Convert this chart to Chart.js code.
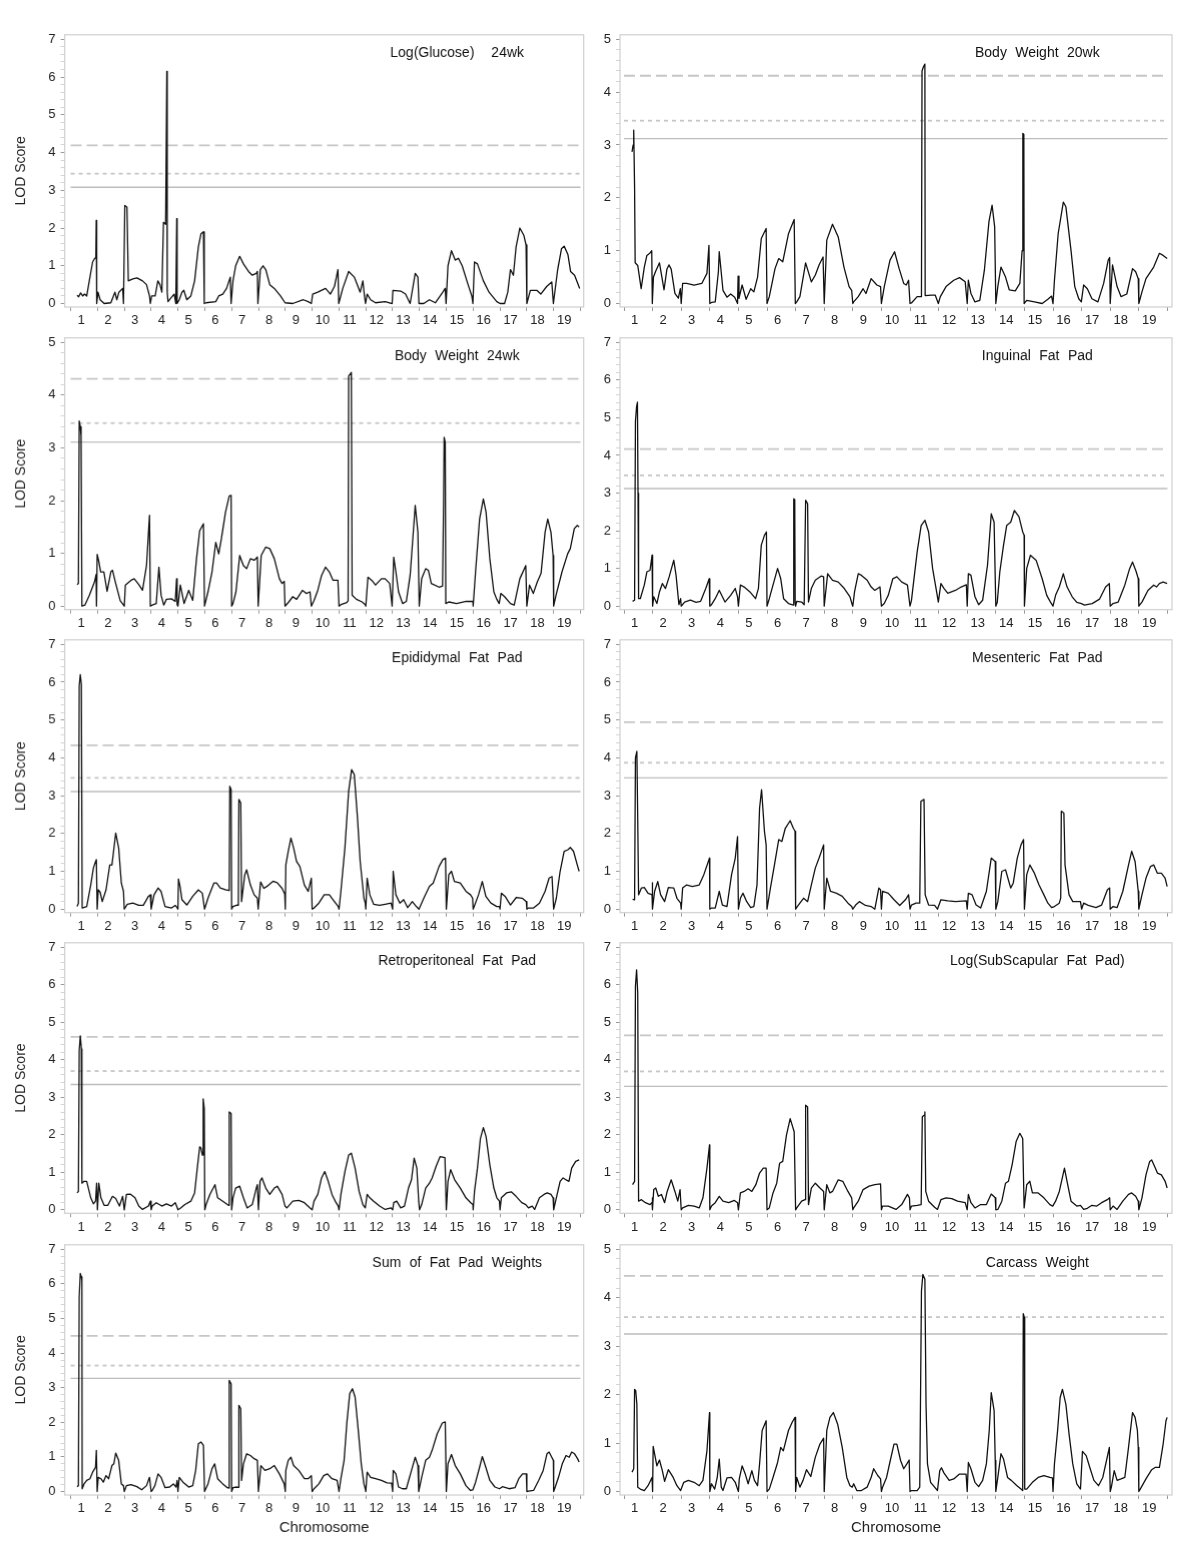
<!DOCTYPE html>
<html>
<head>
<meta charset="utf-8">
<script src="https://cdn.jsdelivr.net/npm/chart.js@4.4.1/dist/chart.umd.min.js"></script>
<style>
  body { margin: 0; background: #fff; width: 1200px; height: 1568px; position: relative; overflow: hidden; }
  .panel { position: absolute; }
</style>
</head>
<body>
<script>
// chromosome labels, one per unit along the x axis (chromosome k spans k-1..k)
const chromosomes = ['1','2','3','4','5','6','7','8','9','10','11','12','13','14','15','16','17','18','19'];

// LOD curves: [position, LOD]
const glucose24wk = [[0.24,0.22],[0.3,0.18],[0.37,0.28],[0.45,0.2],[0.52,0.25],[0.6,0.2],[0.72,0.7],[0.82,1.1],[0.9,1.2],[0.94,1.2],[0.955,2.2],[0.965,1.25],[0.98,0],
  [1.02,0.3],[1.1,0.1],[1.25,0],[1.5,0.02],[1.65,0.3],[1.72,0.1],[1.8,0.3],[1.94,0.4],[1.97,0],
  [2.02,2.6],[2.1,2.55],[2.15,0.6],[2.32,0.65],[2.47,0.68],[2.68,0.6],[2.83,0.5],[2.94,0.2],[2.97,0],
  [3.02,0.2],[3.15,0.2],[3.25,0.6],[3.33,0.5],[3.4,0.3],[3.46,2.15],[3.54,2.1],[3.585,6.15],[3.6,0.3],[3.63,0.05],[3.8,0.2],[3.86,0.25],[3.92,0],[3.955,2.25],[3.97,0],
  [4.05,0.1],[4.15,0.3],[4.22,0.35],[4.33,0.1],[4.48,0.2],[4.62,0.6],[4.76,1.5],[4.86,1.85],[4.95,1.9],[4.98,0],
  [5.05,0.02],[5.41,0.05],[5.52,0.2],[5.67,0.25],[5.81,0.4],[5.95,0.7],[5.98,0],
  [6.05,0.6],[6.15,1.0],[6.3,1.25],[6.44,1.05],[6.63,0.85],[6.77,0.75],[6.92,0.8],[6.96,0.85],[6.98,0],
  [7.07,0.9],[7.17,1.0],[7.27,0.9],[7.42,0.5],[7.59,0.4],[7.82,0.2],[7.99,0.02],
  [8.28,0],[8.67,0.1],[8.85,0.05],[8.97,0],
  [9.02,0.25],[9.21,0.3],[9.5,0.4],[9.68,0.25],[9.83,0.45],[9.96,0.9],[9.99,0],
  [10.14,0.4],[10.36,0.85],[10.57,0.7],[10.79,0.3],[10.89,0.6],[10.95,0.2],[10.99,0],
  [11.05,0.25],[11.18,0.1],[11.36,0.02],[11.72,0.05],[11.98,0],
  [12.01,0.35],[12.3,0.33],[12.48,0.25],[12.65,0],[12.84,0.8],[12.94,0.7],[12.98,0],
  [13.16,0],[13.37,0.1],[13.59,0.02],[13.87,0.3],[13.96,0.4],[13.99,0],
  [14.06,1.0],[14.19,1.4],[14.33,1.15],[14.45,1.2],[14.59,1.0],[14.81,0.5],[14.95,0.2],[14.99,0],
  [15.05,1.1],[15.16,1.05],[15.38,0.6],[15.59,0.3],[15.88,0.05],[16.0,0],
  [16.17,0],[16.29,0.3],[16.39,0.9],[16.5,0.75],[16.6,1.5],[16.74,2.0],[16.89,1.8],[16.97,1.55],[17.0,0],
  [17.13,0.35],[17.37,0.35],[17.52,0.25],[17.74,0.45],[17.93,0.57],[17.99,0],
  [18.15,0.9],[18.29,1.45],[18.39,1.52],[18.53,1.3],[18.63,0.85],[18.78,0.75],[18.97,0.4]];

const bodyWeight20wk = [[0.28,2.87],[0.32,3.0],[0.34,3.28],[0.37,2.2],[0.39,0.77],[0.48,0.72],[0.6,0.28],[0.71,0.69],[0.8,0.91],[0.9,0.95],[0.97,1.0],[0.99,0],
  [1.03,0.5],[1.1,0.6],[1.24,0.77],[1.4,0.26],[1.5,0.65],[1.57,0.73],[1.65,0.65],[1.78,0.19],[1.9,0.1],[1.97,0.28],[2.0,0],
  [2.05,0.38],[2.19,0.38],[2.45,0.35],[2.72,0.38],[2.9,0.57],[2.97,1.1],[3.0,0],
  [3.06,0.02],[3.19,0.03],[3.3,0.6],[3.33,0.98],[3.46,0.25],[3.6,0.12],[3.73,0.18],[3.87,0.12],[3.97,0],[3.99,0.52],[4.02,0.1],
  [4.13,0.35],[4.27,0.08],[4.43,0.28],[4.54,0.22],[4.67,0.5],[4.8,1.23],[4.97,1.42],[5.0,0],
  [5.08,0.13],[5.28,0.66],[5.41,0.85],[5.55,0.79],[5.75,1.32],[5.95,1.59],[5.99,0],
  [6.04,0.03],[6.15,0.13],[6.35,0.77],[6.55,0.41],[6.69,0.54],[6.82,0.73],[6.96,0.88],[7.0,0],
  [7.09,1.2],[7.29,1.5],[7.49,1.26],[7.69,0.69],[7.87,0.32],[7.96,0.25],[8.0,0],
  [8.03,0.03],[8.19,0.13],[8.36,0.28],[8.46,0.19],[8.64,0.47],[8.84,0.35],[8.97,0.32],[9.0,0],
  [9.1,0.32],[9.3,0.82],[9.46,0.98],[9.62,0.66],[9.78,0.38],[9.87,0.35],[9.95,0.44],[10.0,0],
  [10.05,0.01],[10.25,0.13],[10.4,0.13],[10.42,4.4],[10.47,4.48],[10.52,4.53],[10.53,0.15],[10.75,0.16],[10.88,0.16],[10.99,0],
  [11.06,0.13],[11.26,0.32],[11.53,0.44],[11.73,0.49],[11.93,0.41],[12.0,0],
  [12.04,0.44],[12.13,0.19],[12.27,0.03],[12.44,0.06],[12.6,0.63],[12.76,1.55],[12.87,1.86],[12.96,1.45],[13.0,0],
  [13.07,0.32],[13.18,0.69],[13.34,0.5],[13.47,0.26],[13.68,0.24],[13.84,0.38],[13.92,1.0],[13.945,3.22],[13.98,3.2],[13.99,0],
  [14.08,0.06],[14.35,0.03],[14.62,0],[14.82,0.08],[14.95,0.14],[15.0,0],
  [15.05,0.44],[15.18,1.32],[15.36,1.92],[15.45,1.83],[15.63,1.0],[15.76,0.32],[15.9,0.09],[15.99,0.03],
  [16.07,0.35],[16.2,0.28],[16.36,0.09],[16.57,0.03],[16.77,0.38],[16.93,0.82],[16.98,0.87],[17.0,0],
  [17.08,0.73],[17.24,0.32],[17.38,0.13],[17.58,0.18],[17.78,0.66],[17.89,0.6],[17.98,0.47],[18.0,0],
  [18.11,0.22],[18.25,0.47],[18.52,0.69],[18.72,0.95],[18.85,0.91],[18.99,0.85]];

const bodyWeight24wk = [[0.24,0.41],[0.29,0.43],[0.32,3.51],[0.36,3.4],[0.39,3.23],[0.42,0],[0.53,0.02],[0.7,0.21],[0.89,0.46],[0.95,0.6],[0.965,0],[0.99,0.98],
  [1.05,0.85],[1.12,0.65],[1.24,0.65],[1.36,0.28],[1.5,0.65],[1.56,0.68],[1.67,0.45],[1.85,0.1],[1.93,0.05],[2.0,0],
  [2.04,0.4],[2.25,0.49],[2.37,0.52],[2.54,0.41],[2.68,0.3],[2.83,0.77],[2.94,1.72],[2.97,0],
  [3.04,0.02],[3.19,0.05],[3.29,0.74],[3.37,0.21],[3.47,0.02],[3.57,0.13],[3.76,0.14],[3.9,0.09],[3.95,0.52],[3.97,0.03],[4.0,0],
  [4.09,0.4],[4.23,0.05],[4.4,0.3],[4.55,0.11],[4.69,0.9],[4.81,1.43],[4.95,1.56],[4.99,0],
  [5.12,0.27],[5.27,0.65],[5.41,1.21],[5.52,0.99],[5.62,1.28],[5.77,1.78],[5.91,2.09],[5.98,2.1],[6.0,0],
  [6.05,0.05],[6.16,0.27],[6.3,0.96],[6.44,0.77],[6.56,0.71],[6.7,0.9],[6.84,0.87],[6.96,0.93],[6.99,0],
  [7.1,0.96],[7.27,1.12],[7.42,1.09],[7.59,0.9],[7.78,0.52],[7.88,0.43],[7.96,0.47],[7.99,0],
  [8.13,0.08],[8.28,0.18],[8.42,0.13],[8.64,0.3],[8.78,0.24],[8.92,0.27],[8.97,0],
  [9.07,0.11],[9.21,0.3],[9.35,0.58],[9.5,0.74],[9.64,0.65],[9.78,0.49],[9.96,0.49],[10.0,0],
  [10.07,0.03],[10.29,0.07],[10.34,0.1],[10.36,4.36],[10.46,4.43],[10.49,0.21],[10.65,0.13],[10.86,0.08],[10.98,0.03],[11.0,0],
  [11.08,0.55],[11.22,0.49],[11.36,0.4],[11.58,0.52],[11.72,0.52],[11.89,0.43],[11.98,0],
  [12.04,0.93],[12.12,0.65],[12.22,0.27],[12.37,0.05],[12.51,0.09],[12.65,0.58],[12.84,1.91],[12.94,1.4],[12.99,0],
  [13.08,0.52],[13.23,0.71],[13.33,0.68],[13.44,0.43],[13.73,0.36],[13.86,0.38],[13.9,2.0],[13.92,3.2],[13.96,3.1],[13.98,0.05],
  [14.09,0.08],[14.38,0.05],[14.74,0.09],[14.99,0.09],[15.0,0],
  [15.09,0.65],[15.24,1.65],[15.38,2.03],[15.48,1.78],[15.62,0.9],[15.77,0.27],[15.88,0.13],[15.97,0.05],
  [16.03,0.24],[16.17,0.18],[16.39,0.05],[16.53,0.02],[16.74,0.52],[16.96,0.77],[17.0,0],
  [17.1,0.4],[17.24,0.24],[17.39,0.46],[17.53,0.62],[17.68,1.4],[17.78,1.65],[17.9,1.4],[17.98,0.96],[18.0,0],
  [18.09,0.21],[18.31,0.65],[18.52,0.99],[18.62,1.09],[18.77,1.47],[18.88,1.53],[18.95,1.5]];

const inguinalFatPad = [[0.3,0.13],[0.37,0.16],[0.4,4.9],[0.44,5.3],[0.47,5.41],[0.49,3.0],[0.51,0.2],[0.57,0.2],[0.71,0.56],[0.8,0.91],[0.91,0.95],[0.98,1.35],[1.0,0],
  [1.04,0.25],[1.15,0.07],[1.24,0.38],[1.34,0.6],[1.45,0.47],[1.58,0.78],[1.74,1.22],[1.82,0.82],[1.92,0.04],[1.98,0.2],[2.0,0],
  [2.12,0.11],[2.32,0.16],[2.52,0.1],[2.68,0.13],[2.86,0.47],[2.98,0.73],[3.0,0],
  [3.06,0.04],[3.19,0.2],[3.33,0.42],[3.44,0.25],[3.53,0.11],[3.73,0.29],[3.89,0.47],[3.97,0.25],[4.0,0],
  [4.07,0.56],[4.2,0.51],[4.4,0.38],[4.6,0.2],[4.7,0.47],[4.8,1.62],[4.91,1.88],[4.98,1.97],[5.0,0],
  [5.08,0.2],[5.21,0.56],[5.37,1.0],[5.48,0.73],[5.58,0.2],[5.75,0.07],[5.92,0.03],[5.935,2.85],[5.97,2.83],[5.985,0.1],[6.0,0],
  [6.04,0.13],[6.21,0.11],[6.3,0.04],[6.35,2.81],[6.42,2.72],[6.45,0.11],[6.55,0.47],[6.69,0.69],[6.89,0.8],[6.98,0.78],[7.0,0],
  [7.12,0.86],[7.29,0.69],[7.49,0.64],[7.7,0.47],[7.9,0.25],[7.98,0.04],[8.0,0],
  [8.06,0.38],[8.19,0.86],[8.3,0.82],[8.5,0.69],[8.64,0.51],[8.77,0.42],[8.95,0.51],[9.0,0],
  [9.1,0.07],[9.24,0.29],[9.4,0.73],[9.54,0.78],[9.71,0.64],[9.91,0.56],[10.0,0],
  [10.05,0.15],[10.15,0.8],[10.25,1.44],[10.39,2.14],[10.52,2.28],[10.65,1.97],[10.79,1.0],[10.93,0.38],[10.99,0.11],
  [11.08,0.6],[11.19,0.47],[11.32,0.34],[11.59,0.42],[11.79,0.51],[11.97,0.57],[12.0,0],
  [12.04,0.86],[12.13,0.82],[12.27,0.25],[12.4,0.04],[12.54,0.16],[12.71,1.09],[12.84,2.45],[12.94,2.23],[13.0,0],
  [13.05,0.1],[13.14,0.91],[13.27,1.62],[13.38,2.14],[13.52,2.23],[13.65,2.54],[13.81,2.37],[13.94,1.97],[13.99,1.88],[14.0,0],
  [14.08,1.0],[14.21,1.35],[14.41,1.22],[14.62,0.73],[14.78,0.29],[14.91,0.11],[15.0,0],
  [15.09,0.29],[15.22,0.51],[15.36,0.86],[15.49,0.51],[15.67,0.25],[15.83,0.1],[15.99,0.07],
  [16.1,0.03],[16.37,0.07],[16.63,0.19],[16.84,0.51],[16.97,0.6],[17.0,0],
  [17.1,0.07],[17.28,0.11],[17.51,0.56],[17.68,1.0],[17.78,1.17],[17.91,0.91],[17.98,0.73],[18.0,0],
  [18.11,0.11],[18.32,0.42],[18.52,0.56],[18.62,0.51],[18.72,0.6],[18.85,0.64],[18.99,0.6]];

const epididymalFatPad = [[0.24,0.07],[0.29,0.16],[0.32,5.9],[0.36,6.2],[0.4,5.94],[0.43,0.03],[0.6,0.07],[0.75,0.64],[0.85,1.09],[0.93,1.26],[0.96,1.31],[0.99,0],
  [1.03,0.51],[1.1,0.45],[1.18,0.2],[1.32,0.51],[1.46,1.17],[1.54,1.17],[1.68,2.01],[1.79,1.62],[1.89,0.69],[1.97,0.47],[2.0,0],
  [2.11,0.13],[2.32,0.16],[2.54,0.1],[2.71,0.1],[2.9,0.34],[2.97,0.38],[3.0,0],
  [3.11,0.38],[3.26,0.56],[3.37,0.47],[3.52,0.07],[3.76,0.03],[3.9,0.1],[3.96,0.05],[4.0,0],
  [4.02,0.8],[4.08,0.6],[4.15,0.25],[4.33,0.11],[4.55,0.34],[4.76,0.51],[4.91,0.42],[4.99,0],
  [5.12,0.29],[5.34,0.69],[5.44,0.69],[5.58,0.56],[5.77,0.51],[5.91,0.49],[5.93,3.25],[5.98,3.16],[6.0,0],
  [6.05,0.07],[6.2,0.11],[6.25,0.1],[6.27,2.9],[6.34,2.81],[6.37,0.2],[6.49,0.91],[6.56,1.04],[6.7,0.64],[6.84,0.38],[6.96,0.29],[6.99,0],
  [7.08,0.72],[7.2,0.55],[7.35,0.62],[7.55,0.74],[7.7,0.7],[7.88,0.55],[7.98,0.4],[8.0,0],
  [8.02,1.17],[8.11,1.53],[8.21,1.88],[8.31,1.62],[8.42,1.26],[8.54,1.13],[8.71,0.64],[8.85,0.47],[8.97,0.82],[9.0,0],
  [9.07,0.03],[9.25,0.16],[9.45,0.38],[9.64,0.38],[9.83,0.2],[9.97,0.07],[10.0,0],
  [10.07,0.47],[10.22,1.62],[10.36,3.12],[10.47,3.69],[10.57,3.56],[10.69,2.41],[10.79,1.26],[10.93,0.29],[10.98,0.16],[11.0,0],
  [11.05,0.82],[11.15,0.38],[11.29,0.13],[11.51,0.1],[11.72,0.13],[11.94,0.16],[12.0,0],
  [12.02,1.0],[12.12,0.38],[12.27,0.16],[12.41,0.25],[12.56,0.04],[12.73,0.2],[12.88,0.07],[12.98,0],
  [13.16,0.29],[13.37,0.6],[13.51,0.69],[13.73,1.13],[13.87,1.31],[13.97,1.35],[14.0,0],
  [14.09,0.91],[14.19,1.0],[14.3,0.73],[14.52,0.69],[14.73,0.47],[14.9,0.38],[14.98,0.29],[15.0,0],
  [15.06,0.11],[15.2,0.38],[15.34,0.73],[15.47,0.34],[15.66,0.16],[15.88,0.07],[15.98,0.07],[16.0,0],
  [16.05,0.42],[16.19,0.34],[16.39,0.11],[16.61,0.31],[16.83,0.29],[16.98,0.2],[17.0,0],
  [17.06,0.03],[17.25,0.03],[17.47,0.16],[17.68,0.47],[17.83,0.82],[17.94,0.86],[18.0,0],
  [18.1,0.29],[18.24,1.0],[18.39,1.53],[18.53,1.57],[18.62,1.63],[18.74,1.53],[18.88,1.17],[18.95,1.0]];

const mesentericFatPad = [[0.3,0.26],[0.37,0.25],[0.4,4.0],[0.45,4.17],[0.48,2.37],[0.51,0.38],[0.61,0.56],[0.71,0.57],[0.84,0.42],[0.98,0.38],[0.99,0.7],[1.0,0],
  [1.07,0.47],[1.18,0.73],[1.28,0.38],[1.42,0.2],[1.55,0.57],[1.74,0.56],[1.85,0.29],[1.98,0.16],[2.0,0],
  [2.05,0.56],[2.19,0.64],[2.39,0.6],[2.63,0.64],[2.79,0.91],[2.99,1.35],[3.0,0],
  [3.06,0.03],[3.19,0.03],[3.33,0.47],[3.44,0.11],[3.6,0.07],[3.76,0.91],[3.89,1.35],[3.97,1.92],[4.0,0],
  [4.07,0.29],[4.16,0.42],[4.29,0.2],[4.43,0.04],[4.54,0.07],[4.65,0.64],[4.74,2.67],[4.81,3.16],[4.91,2.06],[4.97,1.7],[5.0,0],
  [5.12,0.56],[5.26,1.17],[5.41,1.84],[5.52,1.79],[5.64,2.14],[5.81,2.34],[5.92,2.14],[5.98,2.06],[6.0,0],
  [6.06,0.07],[6.15,0.16],[6.28,0.29],[6.42,0.2],[6.55,0.64],[6.69,1.09],[6.82,1.35],[6.98,1.7],[7.0,0],
  [7.09,0.82],[7.22,0.47],[7.43,0.42],[7.63,0.34],[7.83,0.16],[7.96,0.07],[8.0,0],
  [8.1,0.11],[8.23,0.2],[8.44,0.1],[8.64,0.07],[8.77,0],[8.91,0.56],[8.97,0.51],[9.0,0],
  [9.04,0.47],[9.24,0.42],[9.44,0.25],[9.64,0.1],[9.84,0.25],[9.95,0.38],[10.0,0],
  [10.05,0.11],[10.21,0.16],[10.34,0.16],[10.38,2.85],[10.49,2.9],[10.53,0.38],[10.65,0.11],[10.86,0.1],[10.96,0],
  [11.08,0.25],[11.32,0.22],[11.59,0.2],[11.97,0.22],[12.0,0],
  [12.04,0.42],[12.17,0.38],[12.31,0.11],[12.47,0.03],[12.67,0.47],[12.84,1.35],[12.98,1.26],[13.0,0],
  [13.07,0.2],[13.21,1.0],[13.34,1.04],[13.52,0.56],[13.61,0.69],[13.75,1.35],[13.88,1.7],[13.97,1.84],[14.0,0],
  [14.08,0.91],[14.19,1.17],[14.35,0.95],[14.51,0.64],[14.68,0.38],[14.82,0.16],[14.95,0.04],
  [15.05,0.07],[15.22,0.16],[15.27,0.3],[15.29,2.59],[15.38,2.54],[15.42,1.17],[15.56,0.38],[15.69,0.2],[15.83,0.2],[15.96,0.2],[16.0,0],
  [16.07,0.16],[16.23,0.1],[16.5,0.04],[16.7,0.11],[16.9,0.51],[16.98,0.56],[17.0,0],
  [17.1,0.07],[17.24,0.04],[17.44,0.47],[17.64,1.17],[17.75,1.53],[17.87,1.26],[17.98,0.47],[18.0,0],
  [18.11,0.38],[18.25,0.82],[18.41,1.13],[18.52,1.17],[18.65,0.95],[18.79,0.95],[18.92,0.82],[18.99,0.6]];

const retroperitonealFatPad = [[0.24,0.45],[0.29,0.49],[0.32,4.24],[0.36,4.64],[0.4,4.29],[0.42,0.71],[0.5,0.76],[0.6,0.76],[0.75,0.32],[0.85,0.16],[0.93,0.23],[0.97,0.71],[1.0,0],
  [1.05,0.71],[1.13,0.32],[1.25,0.12],[1.39,0.12],[1.56,0.36],[1.68,0.3],[1.82,0.1],[1.94,0.36],[2.0,0],
  [2.08,0.41],[2.22,0.42],[2.4,0.32],[2.54,0.1],[2.68,0.01],[2.9,0.1],[2.97,0.23],[3.0,0],
  [3.04,0.1],[3.19,0.19],[3.4,0.1],[3.57,0.16],[3.76,0.1],[3.9,0.19],[3.97,0.07],[4.0,0],
  [4.09,0.04],[4.26,0.14],[4.48,0.23],[4.62,0.45],[4.72,1.11],[4.81,1.68],[4.86,1.64],[4.91,1.46],[4.94,2.96],[4.98,2.7],[5.0,0],
  [5.05,0.14],[5.19,0.41],[5.38,0.67],[5.48,0.32],[5.67,0.23],[5.84,0.14],[5.9,0.12],[5.91,2.61],[5.98,2.57],[6.0,0],
  [6.05,0.32],[6.15,0.58],[6.3,0.63],[6.44,0.32],[6.58,0.05],[6.77,0.14],[6.92,0.58],[6.96,0.67],[7.0,0],
  [7.06,0.76],[7.13,0.85],[7.27,0.58],[7.42,0.41],[7.59,0.58],[7.7,0.63],[7.88,0.41],[7.99,0.1],
  [8.06,0.05],[8.28,0.23],[8.5,0.25],[8.71,0.19],[8.92,0.05],[9.0,0],
  [9.07,0.23],[9.21,0.41],[9.35,0.85],[9.47,1.02],[9.6,0.76],[9.74,0.41],[9.89,0.19],[9.97,0.1],[10.0,0],
  [10.07,0.41],[10.22,1.02],[10.36,1.46],[10.46,1.51],[10.6,1.11],[10.75,0.49],[10.89,0.14],[10.98,0.05],
  [11.05,0.41],[11.15,0.32],[11.29,0.23],[11.51,0.1],[11.72,0.01],[11.94,0.05],[12.0,0],
  [12.04,0.19],[12.15,0.23],[12.3,0.05],[12.44,0.1],[12.59,0.58],[12.7,0.8],[12.8,1.38],[12.9,1.11],[12.97,0.23],[13.0,0],
  [13.08,0.14],[13.23,0.58],[13.37,0.71],[13.47,0.85],[13.62,1.16],[13.77,1.42],[13.95,1.39],[14.0,0],
  [14.06,0.76],[14.16,1.07],[14.31,0.8],[14.52,0.58],[14.73,0.32],[14.91,0.19],[14.99,0.14],[15.0,0],
  [15.05,0.49],[15.16,1.11],[15.27,1.9],[15.38,2.19],[15.48,1.95],[15.62,1.2],[15.77,0.58],[15.88,0.32],[15.98,0.23],[16.0,0],
  [16.05,0.32],[16.24,0.45],[16.42,0.48],[16.6,0.36],[16.81,0.19],[16.96,0.14],
  [17.06,0.05],[17.2,0.1],[17.29,0.01],[17.47,0.32],[17.64,0.41],[17.76,0.45],[17.9,0.41],[17.98,0.32],[18.0,0],
  [18.1,0.32],[18.24,0.76],[18.35,0.85],[18.46,0.8],[18.57,0.76],[18.67,1.11],[18.82,1.29],[18.95,1.33]];

const subscapularFatPad = [[0.3,0.67],[0.37,0.76],[0.4,5.96],[0.44,6.4],[0.48,5.78],[0.51,0.23],[0.61,0.27],[0.75,0.19],[0.91,0.14],[0.98,0.2],[0.99,0.32],[1.0,0],
  [1.04,0.54],[1.11,0.58],[1.2,0.36],[1.31,0.41],[1.42,0.19],[1.51,0.49],[1.65,0.8],[1.78,0.49],[1.88,0.23],[1.96,0.54],[2.0,0],
  [2.05,0.05],[2.25,0.12],[2.45,0.1],[2.63,0.05],[2.76,0.32],[2.9,1.11],[2.99,1.73],[3.0,0],
  [3.06,0.1],[3.19,0.19],[3.33,0.36],[3.46,0.23],[3.66,0.19],[3.86,0.25],[3.97,0.19],[4.0,0],
  [4.07,0.45],[4.2,0.49],[4.34,0.56],[4.47,0.49],[4.61,0.67],[4.74,0.98],[4.87,1.11],[4.97,1.11],[5.0,0],
  [5.08,0.05],[5.21,0.45],[5.34,0.71],[5.44,1.24],[5.55,1.29],[5.68,1.99],[5.81,2.43],[5.95,2.08],[6.0,0],
  [6.04,0.05],[6.21,0.23],[6.33,0.27],[6.35,2.79],[6.42,2.74],[6.45,0.14],[6.55,0.58],[6.69,0.71],[6.85,0.58],[6.98,0.49],[7.0,0],
  [7.09,0.67],[7.2,0.45],[7.29,0.49],[7.49,0.8],[7.65,0.76],[7.83,0.49],[7.96,0.32],[8.0,0],
  [8.03,0.05],[8.19,0.23],[8.36,0.54],[8.57,0.63],[8.77,0.67],[8.97,0.69],[9.0,0],
  [9.04,0.1],[9.24,0.1],[9.51,0.01],[9.71,0.14],[9.91,0.41],[9.98,0.32],[10.0,0],
  [10.05,0.1],[10.25,0.12],[10.39,0.14],[10.43,2.48],[10.49,2.52],[10.52,2.61],[10.55,0.49],[10.65,0.23],[10.86,0.07],[10.96,0.01],
  [11.08,0.27],[11.26,0.32],[11.46,0.3],[11.66,0.23],[11.93,0.19],[12.0,0],
  [12.04,0.41],[12.13,0.19],[12.27,0.05],[12.47,0.14],[12.67,0.14],[12.84,0.42],[12.98,0.32],[13.0,0],
  [13.07,0.01],[13.21,0.23],[13.34,0.71],[13.44,0.76],[13.57,1.2],[13.71,1.82],[13.84,2.04],[13.94,1.9],[13.99,0.05],
  [14.08,0.67],[14.19,0.76],[14.28,0.45],[14.48,0.45],[14.68,0.32],[14.89,0.14],[14.99,0.1],
  [15.09,0.23],[15.22,0.49],[15.4,1.11],[15.49,0.76],[15.63,0.23],[15.83,0.1],[15.96,0.12],
  [16.07,0.01],[16.2,0.04],[16.36,0.12],[16.53,0.1],[16.7,0.19],[16.9,0.27],[16.98,0.32],[17.0,0],
  [17.1,0.1],[17.24,0.01],[17.44,0.23],[17.64,0.41],[17.75,0.45],[17.89,0.36],[17.98,0.23],[18.0,0],
  [18.11,0.32],[18.25,0.93],[18.38,1.29],[18.45,1.33],[18.58,1.11],[18.65,0.98],[18.79,0.93],[18.92,0.76],[18.99,0.58]];

const fatPadSum = [[0.24,0.14],[0.29,0.17],[0.32,5.62],[0.36,6.3],[0.4,6.2],[0.42,6.1],[0.43,0.08],[0.5,0.22],[0.6,0.32],[0.72,0.37],[0.82,0.56],[0.93,0.7],[0.96,1.19],[0.99,0],
  [1.03,0.41],[1.13,0.37],[1.22,0.27],[1.32,0.46],[1.42,0.37],[1.54,0.75],[1.61,0.8],[1.68,1.11],[1.79,0.9],[1.89,0.22],[1.97,0.17],[2.0,0],
  [2.08,0.17],[2.25,0.2],[2.47,0.14],[2.65,0.05],[2.83,0.17],[2.94,0.41],[3.0,0],
  [3.04,0.03],[3.14,0.17],[3.26,0.51],[3.37,0.41],[3.52,0.11],[3.69,0.13],[3.83,0.22],[3.93,0.13],[3.97,0.32],[4.0,0],
  [4.05,0.41],[4.19,0.27],[4.4,0.13],[4.55,0.17],[4.66,0.61],[4.76,1.38],[4.86,1.43],[4.95,1.33],[4.99,0],
  [5.12,0.22],[5.27,0.66],[5.37,0.8],[5.48,0.37],[5.67,0.22],[5.84,0.11],[5.9,0.1],[5.91,3.21],[5.98,3.11],[6.0,0],
  [6.05,0.11],[6.2,0.13],[6.26,0.12],[6.27,2.49],[6.34,2.39],[6.37,0.32],[6.44,0.8],[6.56,1.09],[6.7,1.04],[6.84,0.95],[6.96,0.9],[7.0,0],
  [7.09,0.75],[7.24,0.61],[7.42,0.66],[7.59,0.75],[7.78,0.51],[7.96,0.22],[8.0,0],
  [8.02,0.61],[8.11,0.9],[8.21,0.99],[8.31,0.75],[8.5,0.61],[8.71,0.37],[8.85,0.37],[8.97,0.46],[9.0,0],
  [9.07,0.08],[9.25,0.22],[9.43,0.46],[9.57,0.51],[9.74,0.37],[9.93,0.32],[10.0,0],
  [10.07,0.37],[10.19,0.9],[10.29,1.96],[10.4,2.83],[10.5,2.97],[10.6,2.73],[10.72,1.76],[10.83,0.8],[10.93,0.22],[10.98,0.08],[11.0,0],
  [11.05,0.56],[11.18,0.41],[11.36,0.37],[11.58,0.32],[11.79,0.25],[11.96,0.24],[12.0,0],
  [12.02,0.61],[12.12,0.51],[12.22,0.13],[12.37,0.08],[12.51,0.08],[12.7,0.61],[12.84,0.99],[12.94,0.75],[12.97,0],
  [13.08,0.41],[13.23,0.9],[13.37,0.99],[13.47,1.19],[13.66,1.67],[13.85,1.98],[13.96,2.01],[14.0,0],
  [14.06,0.8],[14.19,1.07],[14.33,0.75],[14.52,0.51],[14.73,0.17],[14.9,0.03],[14.99,0.05],
  [15.09,0.27],[15.24,0.7],[15.34,1.01],[15.47,0.7],[15.62,0.32],[15.81,0.13],[15.98,0.08],
  [16.09,0.14],[16.34,0.08],[16.56,0.11],[16.7,0.37],[16.84,0.51],[16.98,0.51],[17.0,0],
  [17.06,0.01],[17.25,0.03],[17.44,0.32],[17.61,0.61],[17.75,1.09],[17.83,1.14],[17.93,0.99],[17.99,0.9],[18.0,0],
  [18.06,0.13],[18.18,0.41],[18.32,0.8],[18.46,1.04],[18.58,0.99],[18.67,1.14],[18.78,1.09],[18.89,0.95],[18.95,0.85]];

const carcassWeight = [[0.28,0.4],[0.34,0.47],[0.37,2.11],[0.41,2.08],[0.45,1.8],[0.48,0.09],[0.57,0.05],[0.71,0.02],[0.84,0.12],[0.98,0.29],[1.0,0],
  [1.02,0.93],[1.15,0.53],[1.24,0.65],[1.34,0.43],[1.42,0.21],[1.55,0.45],[1.72,0.29],[1.85,0.12],[1.98,0.02],
  [2.09,0.19],[2.25,0.23],[2.45,0.19],[2.63,0.12],[2.76,0.23],[2.9,0.84],[2.99,1.63],[3.0,0],
  [3.06,0.16],[3.17,0.05],[3.26,0.29],[3.33,0.67],[3.4,0.09],[3.46,0.02],[3.6,0.28],[3.76,0.29],[3.89,0.19],[3.97,0.05],[4.0,0],
  [4.03,0.26],[4.13,0.53],[4.24,0.36],[4.34,0.16],[4.47,0.43],[4.56,0.23],[4.67,0.12],[4.74,0.57],[4.83,1.26],[4.97,1.46],[5.0,0],
  [5.08,0.05],[5.21,0.29],[5.37,0.6],[5.48,0.91],[5.57,0.84],[5.75,1.26],[5.88,1.43],[5.98,1.53],[6.0,0],
  [6.04,0.29],[6.15,0.09],[6.26,0.23],[6.38,0.45],[6.53,0.31],[6.69,0.71],[6.85,0.98],[6.98,1.1],[7.0,0],
  [7.09,1.26],[7.2,1.53],[7.32,1.63],[7.47,1.39],[7.63,0.91],[7.79,0.29],[7.9,0.12],[7.98,0.09],
  [8.03,0.16],[8.14,0.02],[8.3,0.02],[8.5,0.09],[8.64,0.29],[8.73,0.47],[8.87,0.33],[8.97,0.26],[9.0,0],
  [9.04,0.09],[9.18,0.29],[9.31,0.64],[9.44,0.98],[9.54,0.98],[9.67,0.64],[9.78,0.47],[9.89,0.57],[9.97,0.65],[10.0,0],
  [10.05,0.02],[10.25,0.02],[10.34,0.09],[10.4,4.14],[10.45,4.48],[10.52,4.38],[10.56,1.8],[10.61,0.57],[10.72,0.19],[10.86,0.09],[10.96,0.02],
  [11.04,0.43],[11.1,0.49],[11.19,0.38],[11.37,0.23],[11.53,0.26],[11.73,0.36],[11.96,0.36],[12.0,0],
  [12.04,0.6],[12.13,0.47],[12.27,0.19],[12.4,0.1],[12.54,0.23],[12.67,0.57],[12.77,1.26],[12.84,2.04],[12.94,1.67],[12.98,0.64],[13.0,0],
  [13.07,0.29],[13.18,0.78],[13.27,0.67],[13.41,0.29],[13.54,0.23],[13.74,0.12],[13.88,0.05],[13.94,0.02],[13.96,3.67],[14.0,3.59],[14.01,0.05],
  [14.08,0.05],[14.28,0.19],[14.48,0.29],[14.68,0.33],[14.89,0.29],[14.98,0.28],[15.0,0],
  [15.05,0.57],[15.16,1.26],[15.25,1.94],[15.33,2.11],[15.45,1.8],[15.56,1.19],[15.69,0.57],[15.83,0.16],[15.96,0.05],
  [16.03,0.83],[16.16,0.74],[16.3,0.47],[16.43,0.23],[16.59,0.12],[16.74,0.29],[16.87,0.64],[16.97,0.91],[17.0,0],
  [17.04,0.09],[17.14,0.43],[17.24,0.23],[17.38,0.26],[17.51,0.29],[17.64,0.91],[17.78,1.63],[17.87,1.53],[17.95,1.26],[17.98,0.91],[18.0,0],
  [18.05,0.05],[18.25,0.26],[18.45,0.45],[18.58,0.5],[18.72,0.5],[18.85,0.98],[18.95,1.46],[18.99,1.53]];

// significance thresholds (long dash, short dash, solid)
const glucose24wkCuts = [4.19, 3.44, 3.08];
const bodyWeight20wkCuts = [4.31, 3.46, 3.12];
const bodyWeight24wkCuts = [4.31, 3.47, 3.11];
const inguinalCuts = [4.17, 3.47, 3.12];
const epididymalCuts = [4.33, 3.47, 3.11];
const mesentericCuts = [4.94, 3.87, 3.47];
const retroperitonealCuts = [4.61, 3.70, 3.34];
const subscapularCuts = [4.65, 3.69, 3.29];
const fatPadSumCuts = [4.5, 3.64, 3.27];
const carcassCuts = [4.45, 3.6, 3.25];

const panelTitles = ['Log(Glucose)  24wk', 'Body Weight 20wk', 'Body Weight 24wk', 'Inguinal Fat Pad',
  'Epididymal Fat Pad', 'Mesenteric Fat Pad', 'Retroperitoneal Fat Pad', 'Log(SubScapular Fat Pad)',
  'Sum of Fat Pad Weights', 'Carcass Weight'];
const panelYMax = [7, 5, 5, 7, 7, 7, 7, 7, 7, 5];

// layout of the page (pixels)
const colFrames = [[64.6, 582.7], [620, 1172]];
const colXRange = [[-0.22, 19.12], [-0.14, 19.16]];
const rowFrames = [[34, 307], [337.3, 609], [639, 911.7], [941.7, 1213], [1244, 1495]];

Chart.defaults.font.family = '"Liberation Sans", Arial, Helvetica, sans-serif';
Chart.defaults.color = '#222';

const dashes = [[11, 5], [4, 4], []];

const panelDecor = {
  id: 'panelDecor',
  beforeDatasetsDraw(chart) {
    const { ctx, chartArea: a } = chart;
    ctx.save();
    ctx.strokeStyle = '#cfcfcf';
    ctx.lineWidth = 1.2;
    ctx.strokeRect(a.left, a.top, a.right - a.left, a.bottom - a.top);
    ctx.restore();
  },
  afterDatasetsDraw(chart, args, opts) {
    const { ctx, chartArea: a } = chart;
    ctx.save();
    ctx.font = '14px "Liberation Sans", Arial, sans-serif';
    if ('wordSpacing' in ctx) ctx.wordSpacing = '4.5px';
    ctx.fillStyle = '#111';
    ctx.textAlign = 'center';
    ctx.textBaseline = 'middle';
    ctx.fillText(opts.text, a.left + (a.right - a.left) * 0.756, a.top + 18);
    ctx.restore();
  }
};

const isWhole = v => Math.abs(v - Math.round(v)) < 1e-6;

function makePanel(index, data, cuts) {
  const row = Math.floor(index / 2), col = index % 2;
  const [fx0, fx1] = colFrames[col];
  const [fy0, fy1] = rowFrames[row];
  const leftCol = col === 0, bottomRow = row === 4;
  const axW = leftCol ? fx0 : 40;
  const axH = bottomRow ? 45 : 24;
  const padT = 12, padR = 12;

  const div = document.createElement('div');
  div.className = 'panel';
  div.style.left = (fx0 - axW) + 'px';
  div.style.top = (fy0 - padT) + 'px';
  div.style.width = (axW + fx1 - fx0 + padR) + 'px';
  div.style.height = (padT + fy1 - fy0 + axH) + 'px';
  const canvas = document.createElement('canvas');
  div.appendChild(canvas);
  document.body.appendChild(div);

  // y=0 sits 3.5px above the frame bottom, the top tick 4.5px below the frame top
  const ymax = panelYMax[index];
  const unit = (fy1 - fy0 - 8) / ymax;

  const datasets = [{
    data: data.map(([x, y]) => ({ x, y })),
    borderColor: '#111',
    borderWidth: 1.3,
    borderJoinStyle: 'round',
    pointRadius: 0,
    tension: 0,
    order: 0
  }];
  cuts.forEach((c, i) => {
    datasets.push({
      data: [{ x: 0, y: c }, { x: 19, y: c }],
      borderColor: i === 2 ? '#bdbdbd' : '#c6c6c6',
      borderWidth: i === 2 ? 1.4 : 1.8,
      borderDash: dashes[i],
      pointRadius: 0,
      order: 1
    });
  });

  new Chart(canvas, {
    type: 'line',
    data: { datasets },
    options: {
      responsive: true,
      maintainAspectRatio: false,
      animation: false,
      events: [],
      layout: { padding: { top: padT, right: padR, left: 0, bottom: 0 } },
      plugins: {
        legend: { display: false },
        tooltip: { enabled: false },
        panelDecor: { text: panelTitles[index] }
      },
      scales: {
        x: {
          type: 'linear',
          min: colXRange[col][0],
          max: colXRange[col][1],
          afterFit: s => { s.height = axH; },
          afterBuildTicks: s => { s.ticks = chromosomes.map((_, i) => ({ value: i })).concat([{ value: 19 }]); },
          ticks: {
            autoSkip: false, maxRotation: 0, labelOffset: 10.5, padding: 2,
            color: '#222', font: { size: 13 },
            callback: (v, i) => chromosomes[i] ?? ''
          },
          grid: { drawOnChartArea: false, tickLength: 4, tickColor: '#9a9a9a', tickWidth: 1 },
          border: { display: false },
          title: bottomRow
            ? { display: true, text: 'Chromosome', color: '#222', font: { size: 15 }, padding: { top: 0, bottom: 2.7 } }
            : { display: false }
        },
        y: {
          type: 'linear',
          min: -3.5 / unit,
          max: ymax + 4.5 / unit,
          afterFit: s => { s.width = axW; },
          afterBuildTicks: s => {
            const t = [];
            for (let k = 0; k <= ymax * 5; k++) t.push({ value: k / 5 });
            s.ticks = t;
          },
          ticks: {
            autoSkip: false, padding: 5, color: '#222', font: { size: 13 },
            callback: v => isWhole(v) ? String(Math.round(v)) : ''
          },
          grid: {
            drawOnChartArea: false, tickLength: 4,
            tickColor: c => isWhole(c.tick.value) ? '#9a9a9a' : '#d4d4d4'
          },
          border: { display: false },
          title: leftCol
            ? { display: true, text: 'LOD Score', color: '#222', font: { size: 14 }, padding: { top: 13, bottom: 0 } }
            : { display: false }
        }
      }
    },
    plugins: [panelDecor]
  });
}

makePanel(0, glucose24wk, glucose24wkCuts);
makePanel(1, bodyWeight20wk, bodyWeight20wkCuts);
makePanel(2, bodyWeight24wk, bodyWeight24wkCuts);
makePanel(3, inguinalFatPad, inguinalCuts);
makePanel(4, epididymalFatPad, epididymalCuts);
makePanel(5, mesentericFatPad, mesentericCuts);
makePanel(6, retroperitonealFatPad, retroperitonealCuts);
makePanel(7, subscapularFatPad, subscapularCuts);
makePanel(8, fatPadSum, fatPadSumCuts);
makePanel(9, carcassWeight, carcassCuts);
</script>
</body>
</html>
